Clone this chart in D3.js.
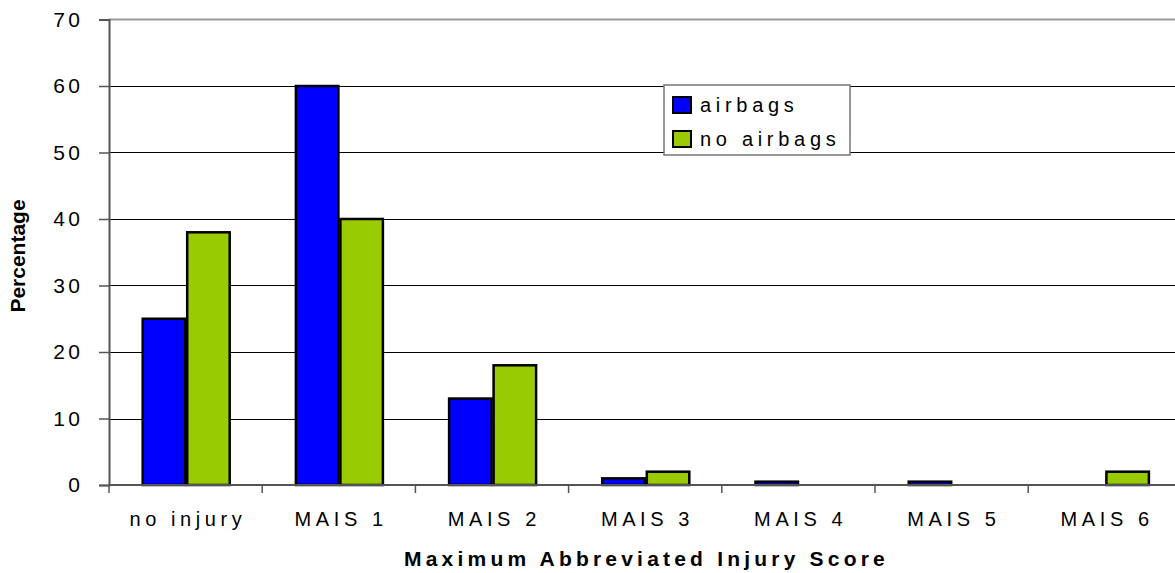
<!DOCTYPE html>
<html><head><meta charset="utf-8">
<script src="https://cdn.jsdelivr.net/npm/d3@7"></script>
<style>
body{margin:0;background:#fff;}
svg{display:block;font-family:Arial,"Liberation Sans",sans-serif;}
</style></head>
<body><svg id="c" width="1175" height="573"></svg>
<script>
const categories = ["no injury","MAIS 1","MAIS 2","MAIS 3","MAIS 4","MAIS 5","MAIS 6"];
const seriesNames = ["airbags","no airbags"];
const airbags = [25,60,13,1,0.5,0.5,0];
const noAirbags = [38,40,18,2,0,0,2];
const yTicks = [0,10,20,30,40,50,60,70];
const colors = ["#0000FF","#99CC00"];

const svg = d3.select("#c");
const L = 109, T = 19.5, B = 485, R = 109 + 7*153.2;
const x = d3.scaleBand().domain(categories).range([L, R]).padding(0);
const x1 = d3.scaleBand().domain(seriesNames).range([32.7, 32.7+89]).padding(0);
const y = d3.scaleLinear().domain([0,70]).range([B, T]);

// gridlines
svg.append("g").selectAll("line").data(yTicks.filter(d=>d>0 && d<70)).join("line")
  .attr("x1",L).attr("x2",1175).attr("y1",d=>Math.round(y(d))+0.5).attr("y2",d=>Math.round(y(d))+0.5)
  .attr("stroke","#000").attr("stroke-width",1);
// top border
svg.append("line").attr("x1",L).attr("x2",1175).attr("y1",y(70)).attr("y2",y(70))
  .attr("stroke","#999").attr("stroke-width",2);

// bars
const data = categories.map((c,i)=>({c, vals:[airbags[i], noAirbags[i]]}));
const g = svg.append("g").selectAll("g").data(data).join("g")
  .attr("transform",d=>`translate(${x(d.c)},0)`);
g.selectAll("rect").data(d=>d.vals.map((v,j)=>({v,j})).filter(e=>e.v>0)).join("rect")
  .attr("x",e=>x1(seriesNames[e.j])+1)
  .attr("width",x1.bandwidth()-2)
  .attr("y",e=>y(e.v))
  .attr("height",e=>B-y(e.v))
  .attr("fill",e=>colors[e.j])
  .attr("stroke","#000").attr("stroke-width",2.5);

// y axis
const ya = svg.append("g").attr("transform",`translate(${L},0)`)
  .call(d3.axisLeft(y).tickValues(yTicks).tickSize(10).tickPadding(15.5).tickFormat(d3.format("d")));
ya.select(".domain").attr("stroke","#555").attr("stroke-width",2);
ya.selectAll(".tick line").attr("stroke","#555").attr("stroke-width",1.5);
ya.selectAll(".tick text").style("font-size","21px").attr("fill","#000").style("letter-spacing","3.5px")
  .style("font-family","Arial, 'Liberation Sans', sans-serif");

// x axis
const xa = svg.append("g").attr("transform",`translate(0,${B})`)
  .call(d3.axisBottom(x).tickSize(0).tickPadding(27));
xa.select(".domain").attr("stroke","#555").attr("stroke-width",2).attr("d",`M${L},0H1175`);
xa.selectAll(".tick text").style("font-size","20px").attr("fill","#000").style("letter-spacing","4.6px")
  .attr("dx","2.3px")
  .style("font-family","Arial, 'Liberation Sans', sans-serif");
// category boundary ticks
svg.append("g").selectAll("line").data(categories).join("line")
  .attr("x1",d=>x(d)).attr("x2",d=>x(d)).attr("y1",B).attr("y2",B+8)
  .attr("stroke","#555").attr("stroke-width",1.5);

// axis titles
svg.append("text").attr("x",646.5).attr("y",566).attr("text-anchor","middle")
  .attr("font-size",21).attr("font-weight","bold").style("letter-spacing","4.2px")
  .text("Maximum Abbreviated Injury Score");
svg.append("text").attr("transform","translate(25,256) rotate(-90)").attr("text-anchor","middle")
  .attr("font-size",21).attr("font-weight","bold")
  .text("Percentage");

// legend
const lg = svg.append("g");
lg.append("rect").attr("x",664).attr("y",85).attr("width",186).attr("height",70)
  .attr("fill","#fff").attr("stroke","#777").attr("stroke-width",1.5);
const li = lg.selectAll("g").data(seriesNames).join("g")
  .attr("transform",(d,i)=>`translate(673,${97+i*34})`);
li.append("rect").attr("width",18).attr("height",16).attr("fill",(d,i)=>colors[i])
  .attr("stroke","#000").attr("stroke-width",2);
li.append("text").attr("x",27).attr("y",15).attr("font-size",20).style("letter-spacing","4.7px").text(d=>d);
</script></body></html>
